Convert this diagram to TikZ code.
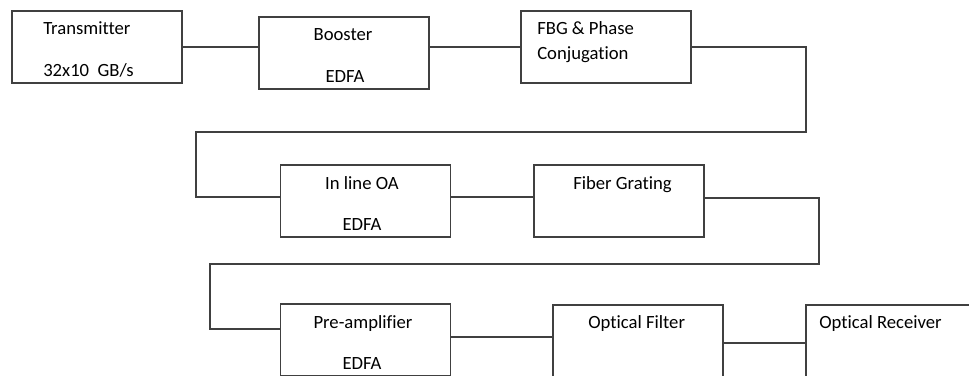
\documentclass[tikz,border=0pt]{standalone}
\usepackage{fontspec}
\setmainfont{Carlito}[Ligatures=NoCommon]

\begin{document}
\begin{tikzpicture}[x=0.75pt,y=-0.75pt,
    blk/.style={draw=black!75, line width=0.8pt, minimum width=127.5pt, minimum height=54pt, inner sep=0pt},
    wire/.style={draw=black!75, line width=0.8pt},
    lbl/.style={font=\fontsize{14}{16}\selectfont, inner sep=0pt}]
            % Draw frame
            \useasboundingbox (0,0) rectangle (969,375);

            % Draw blocks
            \node[blk] (tx) at (97,47) {};
            \node[blk] (boost) at (344,53) {};
            \node[blk] (fbg) at (606,47) {};
            \node[blk] (inl) at (365.5,201) {};
            \node[blk] (fib) at (619,201) {};
            \node[blk] (pre) at (365.5,340) {};
            \node[blk] (filt) at (638,341) {};
            \node[blk] (rx) at (891,341) {};

            % Draw block texts
            \node[lbl, anchor=base west] (txa) at (43,34) {Transmitter};
            \node[lbl, anchor=base west] (txb) at (43,76) {32x10\ \ GB/s};
            \node[lbl, anchor=base] (boosta) at (343,40) {Booster};
            \node[lbl, anchor=base] (boostb) at (345,82) {EDFA};
            \node[lbl, anchor=base west] (fbga) at (537,34) {FBG \& Phase};
            \node[lbl, anchor=base west] (fbgb) at (537,59) {Conjugation};
            \node[lbl, anchor=base] (inla) at (362,189) {In line OA};
            \node[lbl, anchor=base] (inlb) at (362,230) {EDFA};
            \node[lbl, anchor=base west] (fiba) at (573,189) {Fiber Grating};
            \node[lbl, anchor=base] (prea) at (363,328) {Pre-amplifier};
            \node[lbl, anchor=base] (preb) at (362,369) {EDFA};
            \node[lbl, anchor=base west] (filta) at (588,328) {Optical Filter};
            \node[lbl, anchor=base west] (rxa) at (819,328) {Optical Receiver};

            % Draw links, first row
            \draw[wire] (tx.east) -- (tx.east -| boost.west);
            \draw[wire] (fbg.west -| boost.east) -- (fbg.west);

            % Turn down to second row
            \coordinate (r1) at (806,132);
            \coordinate (l1) at (196,132);
            \draw[wire] (fbg.east) -| (r1) -- (l1) |- ([yshift=3pt]inl.west);
            \draw[wire] ([yshift=3pt]inl.east) -- ([yshift=3pt]fib.west);

            % Turn down to third row
            \coordinate (r2) at (819,264);
            \coordinate (l2) at (210,264);
            \draw[wire] ([yshift=2.25pt]fib.east) -| (r2) -- (l2) |- ([yshift=8.25pt]pre.west);
            \draw[wire] ([yshift=2.25pt]pre.east) -- ([yshift=2.25pt]pre.east -| filt.west);
            \draw[wire] ([yshift=-1.5pt]filt.east) -- ([yshift=-1.5pt]filt.east -| rx.west);
        \end{tikzpicture}
\end{document}
